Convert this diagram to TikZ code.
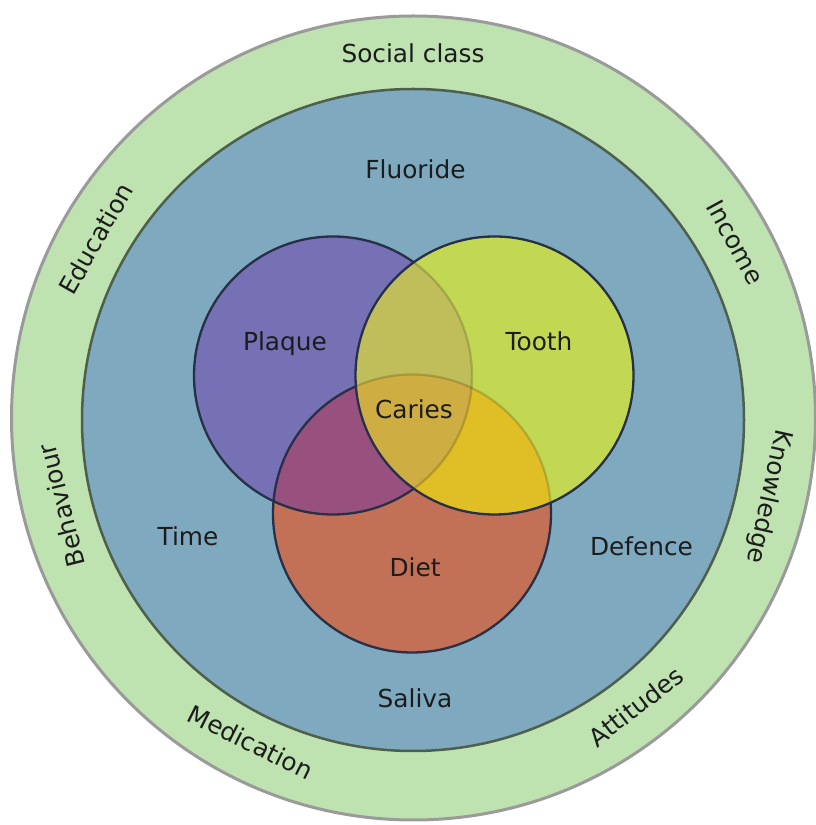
\documentclass[tikz,border=0pt]{standalone}
\usepackage{fontspec}
\setmainfont{DejaVu Sans}
\usetikzlibrary{calc}

\definecolor{ringgreen}{HTML}{BEE2B0}
\definecolor{ringedge}{HTML}{9A9A9A}
\definecolor{envblue}{HTML}{7FA9BF}
\definecolor{envedge}{HTML}{4E5F4C}
\definecolor{plaquecol}{HTML}{7670B5}
\definecolor{toothcol}{HTML}{C3D852}
\definecolor{dietcol}{HTML}{C37156}
\definecolor{ptcol}{HTML}{BFBE5A}
\definecolor{pdcol}{HTML}{98517F}
\definecolor{tdcol}{HTML}{E0BE26}
\definecolor{cariescol}{HTML}{CEAE42}
\definecolor{vedge}{HTML}{273047}
\definecolor{labeltext}{HTML}{1C1C1C}

\begin{document}
\fontsize{24.8}{29}\selectfont
\begin{tikzpicture}[x=1pt, y=1pt,
  lbl/.style={font=\fontsize{24.8}{29}\selectfont, text=labeltext, inner sep=0pt},
  vborder/.style={draw=vedge, line width=2.3pt},
  vfaint/.style={draw=black, draw opacity=0.16, line width=2.3pt}]

\useasboundingbox (0,0) rectangle (815,825);
\fill[white] (0,0) rectangle (815,825);

% centres of the rings and of the three factor circles
\coordinate (ringc) at (413.5,407);
\coordinate (envc) at (413,405);
\coordinate (labc) at (413,407);
\coordinate (P) at (333,449.5);
\coordinate (T) at (494.5,449.5);
\coordinate (D) at (412,311.5);
\def\vr{139pt}

% social ring and oral environment
\filldraw[fill=ringgreen, draw=ringedge, line width=3pt] (ringc) circle[radius=402pt];
\filldraw[fill=envblue, draw=envedge, line width=2.5pt] (envc) circle[radius=331pt];

% plaque and diet layer
\fill[plaquecol] (P) circle[radius=\vr];
\fill[dietcol] (D) circle[radius=\vr];
\begin{scope}
  \clip (P) circle[radius=\vr];
  \fill[pdcol] (D) circle[radius=\vr];
\end{scope}
\draw[vborder] (P) circle[radius=\vr];
\draw[vborder] (D) circle[radius=\vr];

% tooth layer on top
\begin{scope}
  \clip (T) circle[radius=\vr];
  \fill[toothcol] (T) circle[radius=\vr];
  \begin{scope}
    \clip (P) circle[radius=\vr];
    \fill[ptcol] (T) circle[radius=\vr];
  \end{scope}
  \begin{scope}
    \clip (D) circle[radius=\vr];
    \fill[tdcol] (T) circle[radius=\vr];
  \end{scope}
  \begin{scope}
    \clip (P) circle[radius=\vr];
    \clip (D) circle[radius=\vr];
    \fill[cariescol] (T) circle[radius=\vr];
  \end{scope}
  \draw[vfaint] (P) circle[radius=\vr];
  \draw[vfaint] (D) circle[radius=\vr];
\end{scope}
\draw[vborder] (T) circle[radius=\vr];

% labels inside the environment
\node[lbl, anchor=base] (fluoride) at (415.5,646) {Fluoride};
\node[lbl, anchor=base] (plaque) at (285,474.5) {Plaque};
\node[lbl, anchor=base] (tooth) at (539,474) {Tooth};
\node[lbl, anchor=base] (caries) at (414,406) {Caries};
\node[lbl, anchor=base] (time) at (188,279) {Time};
\node[lbl, anchor=base] (diet) at (415,248) {Diet};
\node[lbl, anchor=base] (defence) at (641.5,269) {Defence};
\node[lbl, anchor=base] (saliva) at (415,117) {Saliva};

% labels around the social ring
\node[lbl, anchor=mid, rotate=0] (social) at ([shift={(90:362)}]labc) {Social class};
\node[lbl, anchor=mid, rotate=60.5] (education) at ([shift={(150.5:362)}]labc) {Education};
\node[lbl, anchor=mid, rotate=-61.4] (income) at ([shift={(28.6:365)}]labc) {Income};
\node[lbl, anchor=mid, rotate=-102.5] (knowledge) at ([shift={(-12.5:364)}]labc) {Knowledge};
\node[lbl, anchor=mid, rotate=37.7] (attitudes) at ([shift={(-52.3:367)}]labc) {Attitudes};
\node[lbl, anchor=mid, rotate=-26.6] (medication) at ([shift={(-116.6:365)}]labc) {Medication};
\node[lbl, anchor=mid, rotate=104] (behaviour) at ([shift={(194:360)}]labc) {Behaviour};
\end{tikzpicture}
\end{document}
